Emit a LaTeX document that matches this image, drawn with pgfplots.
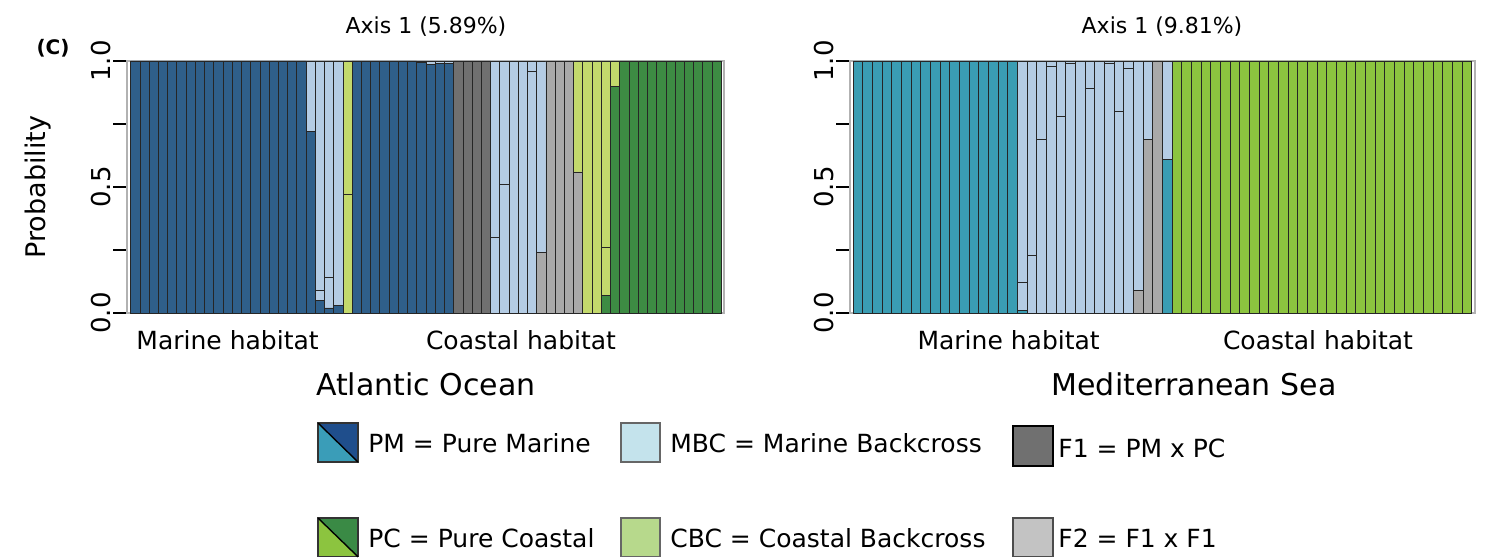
\documentclass[border=0pt]{standalone}
\usepackage{pgfplots}
\pgfplotsset{compat=1.18}
\usepackage{pgfplotstable}
\usepackage{graphicx}
\usepackage{fontspec}
\setmainfont{DejaVu Sans}

\definecolor{aPM}{HTML}{2F5F8A}
\definecolor{aPC}{HTML}{3D8B43}
\definecolor{mPM}{HTML}{3A9DB3}
\definecolor{mPC}{HTML}{8CC43F}
\definecolor{cMBC}{HTML}{B4CCE4}
\definecolor{cCBC}{HTML}{C3D96C}
\definecolor{cF1}{HTML}{707070}
\definecolor{cF2}{HTML}{A9A9A9}
\definecolor{lPMd}{HTML}{1F4E8C}
\definecolor{lPMl}{HTML}{3A9DB8}
\definecolor{lPCd}{HTML}{3A8A45}
\definecolor{lPCl}{HTML}{8CC43F}
\definecolor{lMBC}{HTML}{C4E3EC}
\definecolor{lCBC}{HTML}{B7D98C}
\definecolor{lF1}{HTML}{707070}
\definecolor{lF2}{HTML}{C3C3C3}

% columns: x PM PC F1 F2 MBCa MBC CBCa CBC
\pgfplotstableread{
x PM PC F1 F2 MBCa MBC CBCa CBC
0 1 0 0 0 0 0 0 0
1 1 0 0 0 0 0 0 0
2 1 0 0 0 0 0 0 0
3 1 0 0 0 0 0 0 0
4 1 0 0 0 0 0 0 0
5 1 0 0 0 0 0 0 0
6 1 0 0 0 0 0 0 0
7 1 0 0 0 0 0 0 0
8 1 0 0 0 0 0 0 0
9 1 0 0 0 0 0 0 0
10 1 0 0 0 0 0 0 0
11 1 0 0 0 0 0 0 0
12 1 0 0 0 0 0 0 0
13 1 0 0 0 0 0 0 0
14 1 0 0 0 0 0 0 0
15 1 0 0 0 0 0 0 0
16 1 0 0 0 0 0 0 0
17 1 0 0 0 0 0 0 0
18 1 0 0 0 0 0 0 0
19 0.72 0 0 0 0 0.28 0 0
20 0.05 0 0 0 0.04 0.91 0 0
21 0.02 0 0 0 0.12 0.86 0 0
22 0.03 0 0 0 0 0.97 0 0
23 0 0 0 0 0 0 0.47 0.53
24 1 0 0 0 0 0 0 0
25 1 0 0 0 0 0 0 0
26 1 0 0 0 0 0 0 0
27 1 0 0 0 0 0 0 0
28 1 0 0 0 0 0 0 0
29 1 0 0 0 0 0 0 0
30 1 0 0 0 0 0 0 0
31 0.995 0 0 0 0 0.005 0 0
32 0.985 0 0 0 0 0.015 0 0
33 0.99 0 0 0 0 0.01 0 0
34 0.99 0 0 0 0 0.01 0 0
35 0 0 1 0 0 0 0 0
36 0 0 1 0 0 0 0 0
37 0 0 1 0 0 0 0 0
38 0 0 1 0 0 0 0 0
39 0 0 0 0 0.30 0.70 0 0
40 0 0 0 0 0.51 0.49 0 0
41 0 0 0 0 0 1 0 0
42 0 0 0 0 0 1 0 0
43 0 0 0 0 0.96 0.04 0 0
44 0 0 0 0.24 0 0.76 0 0
45 0 0 0 1 0 0 0 0
46 0 0 0 1 0 0 0 0
47 0 0 0 1 0 0 0 0
48 0 0 0 0.56 0 0 0 0.44
49 0 0 0 0 0 0 0 1
50 0 0 0 0 0 0 0 1
51 0 0.07 0 0 0 0 0.19 0.74
52 0 0.90 0 0 0 0 0 0.10
53 0 1 0 0 0 0 0 0
54 0 1 0 0 0 0 0 0
55 0 1 0 0 0 0 0 0
56 0 1 0 0 0 0 0 0
57 0 1 0 0 0 0 0 0
58 0 1 0 0 0 0 0 0
59 0 1 0 0 0 0 0 0
60 0 1 0 0 0 0 0 0
61 0 1 0 0 0 0 0 0
62 0 1 0 0 0 0 0 0
63 0 1 0 0 0 0 0 0
}\atlantic

\pgfplotstableread{
x PM PC F1 F2 MBCa MBC CBCa CBC
0 1 0 0 0 0 0 0 0
1 1 0 0 0 0 0 0 0
2 1 0 0 0 0 0 0 0
3 1 0 0 0 0 0 0 0
4 1 0 0 0 0 0 0 0
5 1 0 0 0 0 0 0 0
6 1 0 0 0 0 0 0 0
7 1 0 0 0 0 0 0 0
8 1 0 0 0 0 0 0 0
9 1 0 0 0 0 0 0 0
10 1 0 0 0 0 0 0 0
11 1 0 0 0 0 0 0 0
12 1 0 0 0 0 0 0 0
13 1 0 0 0 0 0 0 0
14 1 0 0 0 0 0 0 0
15 1 0 0 0 0 0 0 0
16 1 0 0 0 0 0 0 0
17 0.01 0 0 0 0.11 0.88 0 0
18 0 0 0 0 0.23 0.77 0 0
19 0 0 0 0 0.69 0.31 0 0
20 0 0 0 0 0.98 0.02 0 0
21 0 0 0 0 0.78 0.22 0 0
22 0 0 0 0 0.99 0.01 0 0
23 0 0 0 0 0 1 0 0
24 0 0 0 0 0.89 0.11 0 0
25 0 0 0 0 0 1 0 0
26 0 0 0 0 0.99 0.01 0 0
27 0 0 0 0 0.80 0.20 0 0
28 0 0 0 0 0.97 0.03 0 0
29 0 0 0 0.09 0 0.91 0 0
30 0 0 0 0.69 0 0.31 0 0
31 0 0 0 1 0 0 0 0
32 0.61 0 0 0 0 0.39 0 0
33 0 1 0 0 0 0 0 0
34 0 1 0 0 0 0 0 0
35 0 1 0 0 0 0 0 0
36 0 1 0 0 0 0 0 0
37 0 1 0 0 0 0 0 0
38 0 1 0 0 0 0 0 0
39 0 1 0 0 0 0 0 0
40 0 1 0 0 0 0 0 0
41 0 1 0 0 0 0 0 0
42 0 1 0 0 0 0 0 0
43 0 1 0 0 0 0 0 0
44 0 1 0 0 0 0 0 0
45 0 1 0 0 0 0 0 0
46 0 1 0 0 0 0 0 0
47 0 1 0 0 0 0 0 0
48 0 1 0 0 0 0 0 0
49 0 1 0 0 0 0 0 0
50 0 1 0 0 0 0 0 0
51 0 1 0 0 0 0 0 0
52 0 1 0 0 0 0 0 0
53 0 1 0 0 0 0 0 0
54 0 1 0 0 0 0 0 0
55 0 1 0 0 0 0 0 0
56 0 1 0 0 0 0 0 0
57 0 1 0 0 0 0 0 0
58 0 1 0 0 0 0 0 0
59 0 1 0 0 0 0 0 0
60 0 1 0 0 0 0 0 0
61 0 1 0 0 0 0 0 0
62 0 1 0 0 0 0 0 0
63 0 1 0 0 0 0 0 0
}\mediterranean

\pgfplotsset{
  panel/.style={
    scale only axis,
    anchor=south west,
    height=126pt,
    ybar stacked,
    bar width=1,
    ymin=0, ymax=1,
    axis line style={draw=gray!60, line width=0.6pt},
    xtick=\empty,
    ytick={0,0.5,1},
    yticklabels={0.0,0.5,1.0},
    minor ytick={0.25,0.75},
    ytick pos=left,
    tick align=outside,
    major tick length=7pt,
    minor tick length=7pt,
    every tick/.style={black, line width=0.6pt},
    yticklabel style={rotate=90, anchor=south, font=\fontsize{13}{15}\selectfont, inner sep=1pt},
    clip=false,
    every axis plot/.append style={draw=black!85, line width=0.35pt},
  }
}

\begin{document}
\begin{tikzpicture}[x=1pt,y=1pt]

% ---------- Atlantic Ocean ----------
\begin{axis}[panel, at={(63.5pt,122.5pt)}, width=298.5pt, xmin=-0.9, xmax=63.8]
\addplot[fill=aPM] table[x=x,y=PM]{\atlantic};
\addplot[fill=aPC] table[x=x,y=PC]{\atlantic};
\addplot[fill=cF1] table[x=x,y=F1]{\atlantic};
\addplot[fill=cF2] table[x=x,y=F2]{\atlantic};
\addplot[fill=cMBC] table[x=x,y=MBCa]{\atlantic};
\addplot[fill=cMBC] table[x=x,y=MBC]{\atlantic};
\addplot[fill=cCBC] table[x=x,y=CBCa]{\atlantic};
\addplot[fill=cCBC] table[x=x,y=CBC]{\atlantic};
\draw[black, line width=1.6pt, dash pattern=on 5pt off 3pt] (axis cs:23.5,0) -- (axis cs:23.5,1);
\node[anchor=base, inner sep=0pt, font=\fontsize{12.5}{14}\selectfont] at ([yshift=-18pt]axis cs:10,0) {Marine habitat};
\node[anchor=base, inner sep=0pt, font=\fontsize{12.5}{14}\selectfont] at ([yshift=-18pt]axis cs:41.8,0) {Coastal habitat};
\end{axis}

% ---------- Mediterranean Sea ----------
\begin{axis}[panel, at={(425pt,122.5pt)}, width=312.5pt, xmin=-0.81, xmax=63.84]
\addplot[fill=mPM] table[x=x,y=PM]{\mediterranean};
\addplot[fill=mPC] table[x=x,y=PC]{\mediterranean};
\addplot[fill=cF1] table[x=x,y=F1]{\mediterranean};
\addplot[fill=cF2] table[x=x,y=F2]{\mediterranean};
\addplot[fill=cMBC] table[x=x,y=MBCa]{\mediterranean};
\addplot[fill=cMBC] table[x=x,y=MBC]{\mediterranean};
\addplot[fill=cCBC] table[x=x,y=CBCa]{\mediterranean};
\addplot[fill=cCBC] table[x=x,y=CBC]{\mediterranean};
\draw[black, line width=1.6pt, dash pattern=on 5pt off 3pt] (axis cs:31.35,0) -- (axis cs:31.35,1);
\node[anchor=base, inner sep=0pt, font=\fontsize{12.5}{14}\selectfont] at ([yshift=-18pt]axis cs:15.6,0) {Marine habitat};
\node[anchor=base, inner sep=0pt, font=\fontsize{12.5}{14}\selectfont] at ([yshift=-18pt]axis cs:47.6,0) {Coastal habitat};
\end{axis}

% ---------- titles and labels ----------
\node[font=\fontsize{11}{13}\selectfont] at (213,265.5) {Axis 1 (5.89\%)};
\node[font=\fontsize{11}{13}\selectfont] at (581,265.5) {Axis 1 (9.81\%)};
\node[font=\bfseries\fontsize{10}{12}\selectfont] at (26.5,255) {(C)};
\node[rotate=90, font=\fontsize{13.5}{15}\selectfont] at (19,185.5) {Probability};
\node[font=\fontsize{15}{17}\selectfont] at (213,87) {Atlantic Ocean};
\node[font=\fontsize{15}{17}\selectfont] at (597,87) {Mediterranean Sea};

% ---------- legend ----------
\tikzset{legtext/.style={anchor=base west, inner sep=0pt, font=\fontsize{12.5}{14}\selectfont}}
% PM
\fill[lPMd] (159,67.5) -- (179,67.5) -- (179,48) -- cycle;
\fill[lPMl] (159,67.5) -- (159,48) -- (179,48) -- cycle;
\draw[black!80, line width=0.6pt] (159,48) rectangle (179,67.5);
\draw[black, line width=0.7pt] (159,67.5) -- (179,48);
\node[legtext] at (184,53) {PM = Pure Marine};
% MBC
\fill[lMBC, draw=black!60, line width=0.6pt] (310.5,48) rectangle (330,67.5);
\node[legtext] at (335,53) {MBC = Marine Backcross};
% F1
\fill[lF1, draw=black, line width=0.6pt] (506.5,46) rectangle (526.5,66);
\node[legtext] at (529,50.5) {F1 = PM x PC};
% PC
\fill[lPCd] (159,20) -- (179,20) -- (179,0.6) -- cycle;
\fill[lPCl] (159,20) -- (159,0.6) -- (179,0.6) -- cycle;
\draw[black!80, line width=0.6pt] (159,0.6) rectangle (179,20);
\draw[black, line width=0.7pt] (159,20) -- (179,0.6);
\node[legtext] at (184,5.5) {PC = Pure Coastal};
% CBC
\fill[lCBC, draw=black!60, line width=0.6pt] (310.5,0.6) rectangle (330,20);
\node[legtext] at (335,5.5) {CBC = Coastal Backcross};
% F2
\fill[lF2, draw=black!70, line width=0.6pt] (506.5,0.6) rectangle (526.5,20);
\node[legtext] at (529,5.5) {F2 = F1 x F1};

\pgfresetboundingbox
\useasboundingbox (0,0) rectangle (745.5,279);
\end{tikzpicture}
\end{document}
